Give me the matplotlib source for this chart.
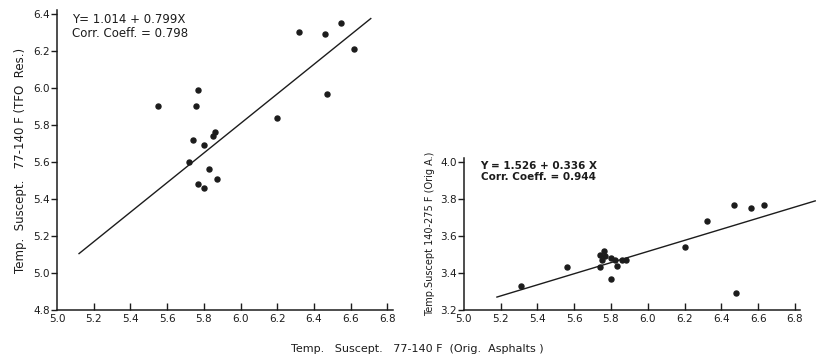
import numpy as np
import matplotlib
matplotlib.use('Agg')
import matplotlib.pyplot as plt

# left panel: TFO residue vs original asphalt (77-140 F)
x_left = [5.55, 5.77, 5.76, 5.74, 5.72, 5.80, 5.86, 5.85, 5.83, 5.87, 5.77, 5.80,
          6.20, 6.32, 6.46, 6.55, 6.62, 6.47]
y_left = [5.90, 5.99, 5.90, 5.72, 5.60, 5.69, 5.76, 5.74, 5.56, 5.51, 5.48, 5.46,
          5.84, 6.30, 6.29, 6.35, 6.21, 5.97]
fit_left = (1.014, 0.799)
fit_left_range = [5.12, 6.71]

# right panel: 140-275 F vs 77-140 F (original asphalts)
x_right = [5.31, 5.56, 5.74, 5.74, 5.76, 5.77, 5.75, 5.80, 5.83, 5.80, 5.82, 5.86, 5.88,
           6.20, 6.32, 6.47, 6.56, 6.63, 6.48]
y_right = [3.33, 3.43, 3.43, 3.50, 3.52, 3.49, 3.47, 3.48, 3.44, 3.37, 3.47, 3.47, 3.47,
           3.54, 3.68, 3.77, 3.75, 3.77, 3.29]
# fitted line as drawn on the original sheet (end points)
line_right_x = [5.18, 6.91]
line_right_y = [3.27, 3.79]

ticks_x = [5.0, 5.2, 5.4, 5.6, 5.8, 6.0, 6.2, 6.4, 6.6, 6.8]
ticks_y_left = [4.8, 5.0, 5.2, 5.4, 5.6, 5.8, 6.0, 6.2, 6.4]
ticks_y_right = [3.2, 3.4, 3.6, 3.8, 4.0]

ink = '#1c1c1c'
plt.rcParams['font.family'] = ['DejaVu Sans']

fig = plt.figure(figsize=(8.18, 3.56), dpi=100)
ax1 = fig.add_axes([0.0697, 0.1292, 0.4105, 0.842])
ax2 = fig.add_axes([0.567, 0.1292, 0.4116, 0.426])


def style(ax, yticks):
    for s in ['top', 'right']:
        ax.spines[s].set_visible(False)
    for s in ['left', 'bottom']:
        ax.spines[s].set_color(ink)
        ax.spines[s].set_linewidth(1.1)
    ax.set_xticks(ticks_x)
    ax.set_xticklabels([f'{t:.1f}' for t in ticks_x], fontsize=7.5, color=ink)
    ax.set_yticks(yticks)
    ax.set_yticklabels([f'{t:.1f}' for t in yticks], fontsize=7.5, color=ink)
    ax.tick_params(axis='x', direction='in', length=5, width=1, color=ink, pad=3)
    ax.tick_params(axis='y', direction='out', length=4, width=1, color=ink, pad=1)
    ax.xaxis.get_major_ticks()[0].tick1line.set_visible(False)


# left
ax1.plot(x_left, y_left, 'o', color=ink, markersize=3.6)
xl = np.array(fit_left_range)
ax1.plot(xl, fit_left[0] + fit_left[1] * xl, color=ink, lw=1)
ax1.set_xlim(5.0, 6.83)
ax1.set_ylim(4.8, 6.42)
style(ax1, ticks_y_left)
ax1.text(0.045, 0.99, 'Y= 1.014 + 0.799X\nCorr. Coeff. = 0.798', transform=ax1.transAxes,
         fontsize=8.5, color=ink, va='top', ha='left', linespacing=1.05)
ax1.set_ylabel('Temp.  Suscept.   77-140 F (TFO  Res.)', fontsize=8.5, color=ink, labelpad=5)

# right
ax2.plot(x_right, y_right, 'o', color=ink, markersize=3.6)
ax2.plot(line_right_x, line_right_y, color=ink, lw=1, clip_on=False)
ax2.set_xlim(5.0, 6.83)
ax2.set_ylim(3.2, 4.02)
style(ax2, ticks_y_right)
ax2.text(0.05, 0.985, 'Y = 1.526 + 0.336 X\nCorr. Coeff. = 0.944', transform=ax2.transAxes,
         fontsize=7.5, color=ink, va='top', ha='left', fontweight='bold', linespacing=1.2)
ax2.set_ylabel('Temp.Suscept 140-275 F (Orig A.)', fontsize=7, color=ink, labelpad=4)

fig.text(0.51, 0.005, 'Temp.   Suscept.   77-140 F  (Orig.  Asphalts )', fontsize=8,
         color=ink, ha='center', va='bottom')

fig.savefig('out.png', dpi=100, facecolor='white')
